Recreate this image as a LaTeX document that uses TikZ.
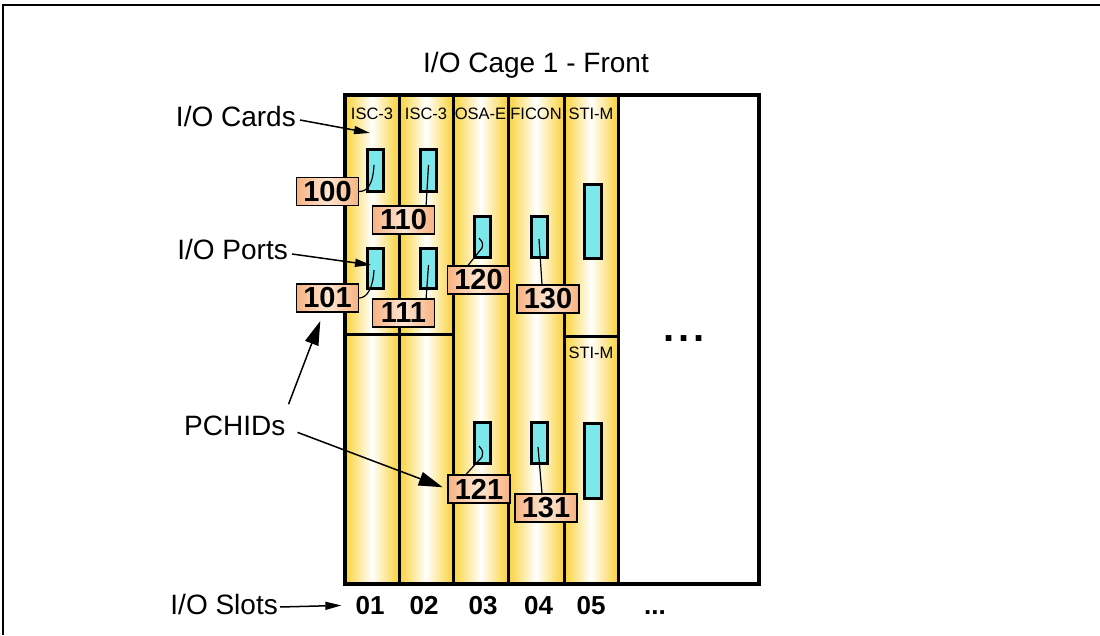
\documentclass[tikz,border=0pt]{standalone}
\usepackage{fontspec}
\setmainfont{Liberation Sans}
\usepackage{tikz}
\usetikzlibrary{arrows.meta,positioning,calc}

\definecolor{cardgold}{RGB}{249,210,55}
\definecolor{portcyan}{RGB}{125,232,236}
\definecolor{pchidorange}{RGB}{247,178,128}
\definecolor{pchidlight}{RGB}{253,230,210}

\tikzset{
  card/.style={draw, line width=3pt, left color=cardgold, right color=cardgold,
    middle color=white, minimum width=54pt, inner sep=0pt, outer sep=0pt},
  port/.style={draw, line width=3pt, fill=portcyan, minimum width=16pt, inner sep=0pt},
  pchid/.style={draw, line width=1.2pt, left color=pchidorange, right color=pchidorange,
    middle color=pchidlight, minimum width=62pt, minimum height=28pt, inner sep=0pt,
    font=\fontsize{29}{29}\selectfont\bfseries},
  cardlbl/.style={font=\fontsize{16.5}{16.5}\selectfont, inner sep=0pt, anchor=base},
  sidelbl/.style={font=\fontsize{28}{28}\selectfont, inner sep=1pt},
  slotnum/.style={font=\fontsize{26}{26}\selectfont\bfseries, inner sep=0pt, anchor=base},
  pointer/.style={-{Triangle[length=16pt,width=8pt]}, line width=1.5pt},
  bigpointer/.style={-{Triangle[length=24pt,width=14pt]}, line width=1.5pt},
  tie/.style={line width=1.2pt}
}

\begin{document}
\begin{tikzpicture}[x=1pt,y=-1pt]
  \useasboundingbox (0,0) rectangle (1100,635);
  \draw[line width=1.5pt] (1100,5) -- (3,5) -- (3,635);

  \node[sidelbl, anchor=base] (title) at (536,72) {I/O Cage 1 - Front};

  % cards in the cage
  \node[card, minimum height=239pt] (c1a) at (372,214.5) {};
  \node[card, minimum height=250pt] (c1b) at (372,459) {};
  \node[card, minimum height=239pt] (c2a) at (426,214.5) {};
  \node[card, minimum height=250pt] (c2b) at (426,459) {};
  \node[card, minimum width=55pt, minimum height=489pt] (c3) at (480.5,339.5) {};
  \node[card, minimum width=56pt, minimum height=489pt] (c4) at (536,339.5) {};
  \node[card, minimum height=241pt] (c5a) at (591,215.5) {};
  \node[card, minimum height=248pt] (c5b) at (591,460) {};
  \node[draw, line width=3pt, fill=white, minimum width=141pt, minimum height=489pt,
    inner sep=0pt, outer sep=0pt] (rest) at (688.5,339.5) {};
  \draw[line width=3.5pt] (c1a.north west) rectangle (rest.south east);

  \node[cardlbl] (n1) at (372,119) {ISC-3};
  \node[cardlbl] (n2) at (426,119) {ISC-3};
  \node[cardlbl] (n3) at (480.5,119) {OSA-E};
  \node[cardlbl] (n4) at (536,119) {FICON};
  \node[cardlbl] (n5) at (591,119) {STI-M};
  \node[cardlbl] (n6) at (591,358) {STI-M};

  \node[font=\fontsize{40}{40}\selectfont\bfseries, anchor=base, inner sep=0pt] (more)
    at (684,341) {.\kern4pt.\kern4pt.};

  % ports
  \node[port, minimum height=42pt] (p1a) at (375,170) {};
  \node[port, minimum height=42pt] (p2a) at (428.5,170) {};
  \node[port, minimum height=40pt] (p1b) at (375,268) {};
  \node[port, minimum height=40pt] (p2b) at (428.5,268) {};
  \node[port, minimum height=41pt] (p3a) at (482.5,236.5) {};
  \node[port, minimum height=41pt] (p4a) at (539.5,236.5) {};
  \node[port, minimum width=17pt, minimum height=74pt] (p5a) at (593,221) {};
  \node[port, minimum height=41pt] (p3b) at (482,442.5) {};
  \node[port, minimum height=41pt] (p4b) at (539,442.5) {};
  \node[port, minimum width=17pt, minimum height=75pt] (p5b) at (593,460.5) {};

  % PCHIDs
  \node[pchid] (l100) at (327.5,191.5) {100};
  \node[pchid] (l110) at (403.5,220) {110};
  \node[pchid] (l101) at (327.5,298) {101};
  \node[pchid] (l111) at (403.5,313) {111};
  \node[pchid] (l120) at (478.5,280) {120};
  \node[pchid] (l130) at (548,299) {130};
  \node[pchid] (l121) at (479,489) {121};
  \node[pchid] (l131) at (546,508) {131};

  \draw[tie] ($(p1a.center)+(-1,-5)$) .. controls +(-1,20) and +(8,0) .. (l100.east);
  \draw[tie] ($(p2a.center)+(0,-5)$) -- ($(l110.north east)+(-9,0)$);
  \draw[tie] ($(p1b.center)+(-1,2)$) .. controls +(-1,18) and +(8,0) .. (l101.east);
  \draw[tie] ($(p2b.center)+(0,-3)$) -- ($(l111.north east)+(-9,0)$);
  \draw[tie] ($(p3a.center)+(-3.5,1.5)$) .. controls +(4,5) .. ($(p3a.center)+(-0.5,11.5)$)
    -- ($(l120.north)+(-10.5,0)$);
  \draw[tie] ($(p4a.center)+(-0.5,2.5)$) -- ($(l130.north)+(-6,0)$);
  \draw[tie] ($(p3b.center)+(-3,3.5)$) .. controls +(4,5) .. ($(p3b.center)+(0,14.5)$)
    -- ($(l121.north)+(-13,0)$);
  \draw[tie] ($(p4b.center)+(-1,4.5)$) -- ($(l131.north)+(-4,0)$);

  % side labels
  \node[sidelbl, anchor=base east] (lcards) at (297,126) {I/O Cards};
  \node[sidelbl, anchor=base east] (lports) at (289,259) {I/O Ports};
  \node[sidelbl, anchor=base west] (lpchid) at (183,435) {PCHIDs};
  \node[sidelbl, anchor=base east] (lslots) at (279,614) {I/O Slots};

  \draw[pointer] ($(lcards.east)+(3,4)$) -- ($(c1a.north)+(-2,38)$);
  \draw[pointer] ($(lports.east)+(3,5)$) -- ($(p1b.center)+(-4,-3)$);
  \draw[bigpointer, shorten >=9pt] ($(lpchid.north east)+(2,-10)$) -- ($(l101.south)+(-4,0)$);
  \draw[bigpointer, shorten >=5pt] ($(lpchid.east)+(11,7)$) -- (l121.west);

  % slot numbers
  \node[slotnum] (s01) at (370,614) {01};
  \node[slotnum] (s02) at (424,614) {02};
  \node[slotnum] (s03) at (483,614) {03};
  \node[slotnum] (s04) at (538.5,614) {04};
  \node[slotnum] (s05) at (591,614) {05};
  \node[slotnum] (sdots) at (655,614) {...};

  \draw[pointer, shorten >=14pt] ($(lslots.east)+(1,3)$) -- (s01.west);
\end{tikzpicture}
\end{document}
